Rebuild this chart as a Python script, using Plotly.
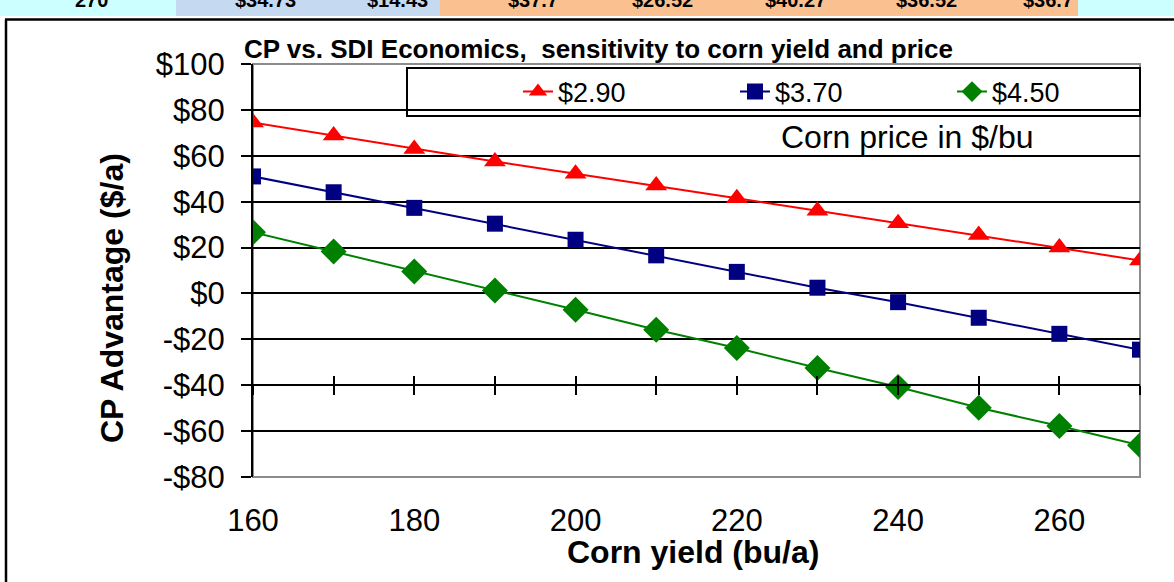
import plotly.graph_objects as go

# ---------------- data ----------------
corn_yield = [160, 170, 180, 190, 200, 210, 220, 230, 240, 250, 260, 270]
series_names = ["$2.90", "$3.70", "$4.50"]
adv_290 = [74.5, 68.8, 63.0, 57.5, 52.2, 47.0, 41.5, 36.0, 30.6, 25.5, 20.0, 14.4]
adv_370 = [51.0, 44.1, 37.3, 30.4, 23.4, 16.6, 9.4, 2.5, -3.8, -10.6, -17.6, -24.5]
adv_450 = [26.7, 18.3, 9.6, 1.3, -7.1, -15.8, -23.8, -32.5, -40.8, -49.8, -57.8, -66.2]
y_tickvals = [100, 80, 60, 40, 20, 0, -20, -40, -60, -80]
y_ticktext = ["$100", "$80", "$60", "$40", "$20", "$0", "-$20", "-$40", "-$60", "-$80"]
x_tickvals = [160, 180, 200, 220, 240, 260]
x_ticktext = ["160", "180", "200", "220", "240", "260"]
strip_texts = ["270", "$34.73", "$14.43", "$37.7", "$26.52", "$40.27", "$36.52", "$36.7"]

# ---------------- layout geometry ----------------
W, H = 1174, 582
L, R, T, B = 253, 34, 64, 105
PW, PH = W - L - R, H - T - B
def fx(px):
    return (px - L) / PW
def fy(py):
    return (H - B - py) / PH

FONT = "Liberation Sans, Arial, sans-serif"
colors = ["#FF0000", "#000080", "#008000"]
symbols = ["triangle-up", "square", "diamond"]
sizes = [19, 16, 20]

fig = go.Figure()
for name, vals, c, s, sz in zip(series_names, [adv_290, adv_370, adv_450], colors, symbols, sizes):
    fig.add_trace(go.Scatter(
        x=corn_yield, y=vals, name=name, mode="lines+markers",
        line=dict(color=c, width=2),
        marker=dict(symbol=s, size=sz, color=c, line=dict(width=0)),
    ))

# helper traces for the crossing tick marks of the horizontal axis drawn at -40
for ax in ["x2", "x3"]:
    fig.add_trace(go.Scatter(x=corn_yield, y=[None] * len(corn_yield), xaxis=ax, yaxis="y",
                             showlegend=False, hoverinfo="skip", mode="markers"))

xr = [160, 270]
yr = [-80, 100]
cross_pos = (-40 - yr[0]) / (yr[1] - yr[0])

fig.update_layout(
    width=W, height=H,
    margin=dict(l=L, r=R, t=T, b=B, pad=0, autoexpand=False),
    paper_bgcolor="white", plot_bgcolor="white",
    font=dict(family=FONT, color="black"),
    showlegend=True,
    legend=dict(orientation="h", x=fx(518), y=fy(92), xanchor="left", yanchor="middle",
                bgcolor="rgba(0,0,0,0)", borderwidth=0,
                font=dict(size=27, family=FONT, color="black"),
                entrywidth=172, entrywidthmode="pixels", itemwidth=30),
    xaxis=dict(range=xr, tickvals=x_tickvals, ticktext=x_ticktext, ticks="",
               showgrid=False, zeroline=False, showline=False, automargin=False,
               tickfont=dict(size=31, family=FONT), ticklabelstandoff=22),
    xaxis2=dict(range=xr, overlaying="x", anchor="free", position=cross_pos,
                dtick=10, tick0=160, ticks="outside", ticklen=9, tickwidth=2, tickcolor="black",
                showticklabels=False, showgrid=False, zeroline=False, automargin=False,
                showline=True, linecolor="black", linewidth=2),
    xaxis3=dict(range=xr, overlaying="x", anchor="free", position=cross_pos,
                dtick=10, tick0=160, ticks="inside", ticklen=9, tickwidth=2, tickcolor="black",
                showticklabels=False, showgrid=False, zeroline=False, showline=False, automargin=False),
    yaxis=dict(range=yr, tickvals=y_tickvals, ticktext=y_ticktext,
               ticks="outside", ticklen=10, tickwidth=2, tickcolor="black",
               showgrid=True, gridcolor="black", gridwidth=2, zeroline=False,
               showline=True, linecolor="black", linewidth=2, automargin=False,
               tickfont=dict(size=31, family=FONT), ticklabelstandoff=10),
)

shapes = []
# plot-area gray border (covers gridlines at the top and bottom edges)
shapes.append(dict(type="rect", xref="paper", yref="paper", x0=0, x1=1, y0=0, y1=1,
                   line=dict(color="#8C8C8C", width=2), fillcolor="rgba(0,0,0,0)", layer="between"))
# legend box
shapes.append(dict(type="rect", xref="paper", yref="paper", x0=fx(407), x1=fx(1140), y0=fy(116), y1=fy(68),
                   line=dict(color="black", width=2), fillcolor="white", layer="between"))
# top spreadsheet strip (cells of the sheet behind the chart)
strip_cells = [(0, 176, "#CCFFFF"), (176, 440, "#C5D9F1"), (440, 1078, "#FAC090"), (1078, 1174, "#CCFFFF")]
for a, b_, col in strip_cells:
    shapes.append(dict(type="rect", xref="paper", yref="paper", x0=fx(a), x1=fx(b_), y0=fy(16), y1=fy(-20),
                       line=dict(width=0), fillcolor=col, layer="below"))
# outer chart frame
shapes.append(dict(type="line", xref="paper", yref="paper", x0=fx(5), x1=fx(1180), y0=fy(19.5), y1=fy(19.5),
                   line=dict(color="black", width=2.5)))
shapes.append(dict(type="line", xref="paper", yref="paper", x0=fx(6), x1=fx(6), y0=fy(19.5), y1=fy(600),
                   line=dict(color="black", width=2.5)))
fig.update_layout(shapes=shapes)

annotations = [
    dict(text="<b>CP vs. SDI Economics,  sensitivity to corn yield and price</b>", xref="paper", yref="paper",
         x=fx(242), y=fy(49), xanchor="left", yanchor="middle", showarrow=False,
         font=dict(size=26, family=FONT, color="black")),
    dict(text="Corn price in $/bu", xref="paper", yref="paper",
         x=fx(907), y=fy(137), xanchor="center", yanchor="middle", showarrow=False,
         font=dict(size=32, family=FONT, color="black")),
    dict(text="<b>Corn yield (bu/a)</b>", xref="paper", yref="paper",
         x=fx(693), y=fy(552), xanchor="center", yanchor="middle", showarrow=False,
         font=dict(size=32, family=FONT, color="black")),
    dict(text="<b>CP Advantage ($/a)</b>", xref="paper", yref="paper", textangle=-90,
         x=fx(112), y=fy(298), xanchor="center", yanchor="middle", showarrow=False,
         font=dict(size=32, family=FONT, color="black")),
]
strip_x = [91, 265, 397, 533, 662, 795, 926, 1048]
for t, xpx in zip(strip_texts, strip_x):
    annotations.append(dict(text="<b>" + t + "</b>", xref="paper", yref="paper", x=fx(xpx), y=fy(0),
                            xanchor="center", yanchor="middle", showarrow=False,
                            font=dict(size=20, family=FONT, color="black")))
fig.update_layout(annotations=annotations)

fig.write_html("out.html", config={"displayModeBar": False},
               post_script="document.body.style.margin='0';document.body.style.overflow='hidden';")
